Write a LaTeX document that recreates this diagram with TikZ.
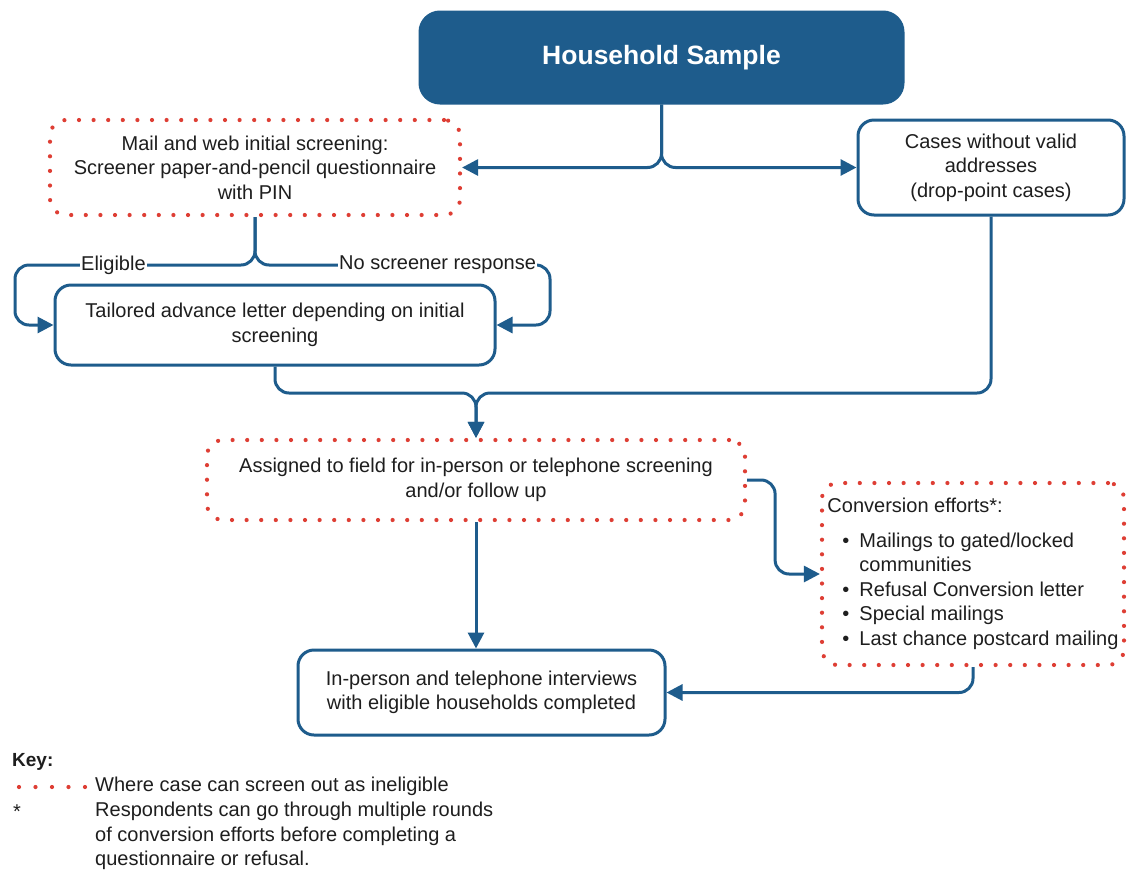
\documentclass[tikz,border=0pt]{standalone}
\usepackage{fontspec}
\setmainfont{Liberation Sans}
\usetikzlibrary{arrows.meta}
\definecolor{dblue}{RGB}{30,92,140}
\definecolor{dotred}{RGB}{222,62,52}
\definecolor{txt}{RGB}{30,30,30}
\tikzset{
  base/.style={font=\fontsize{20}{24.5}\selectfont, text=txt, align=center, inner sep=0pt},
  bluebox/.style={base, draw=dblue, line width=3pt, rounded corners=16pt, fill=white},
  dotbox/.style={base, draw=dotred, line width=4.2pt, dash pattern=on 0pt off 14.6pt, line cap=round, rounded corners=16pt},
  conn/.style={draw=dblue, line width=3pt, rounded corners=14pt},
  arr/.style={conn, -{Triangle[length=16pt,width=16pt]}},
  lbl/.style={base, fill=white, inner xsep=1pt, inner ysep=2pt},
}
\begin{document}
\begin{tikzpicture}[x=1pt,y=-1pt]
\useasboundingbox (0,0) rectangle (1127,871);
\fill[white] (0,0) rectangle (1127,871);

% nodes
\node[base, fill=dblue, draw=dblue, line width=3pt, rounded corners=20pt, minimum width=483pt, minimum height=91pt, text=white, font=\bfseries\fontsize{26.5}{30}\selectfont] (hs) at (661.5,57.5) {Household Sample};
\node[dotbox, minimum width=410pt, minimum height=95pt] (mail) at (255,167.5) {Mail and web initial screening:\\Screener paper-and-pencil questionnaire\\with PIN};
\node[bluebox, minimum width=266pt, minimum height=95pt] (cases) at (991,167.5) {Cases without valid\\addresses\\(drop-point cases)};
\node[bluebox, minimum width=440pt, minimum height=80pt] (tail) at (275,325) {Tailored advance letter depending on initial\\screening};
\node[dotbox, minimum width=538pt, minimum height=80pt] (asg) at (476,480) {Assigned to field for in-person or telephone screening\\and/or follow up};
\node[dotbox, minimum width=302pt, minimum height=182pt, align=left] (conv) at (973,574) {Conversion efforts*:\\[10pt]
\hspace*{15pt}\makebox[17pt][l]{\textbullet}Mailings to gated/locked\\
\hspace*{32pt}communities\\
\hspace*{15pt}\makebox[17pt][l]{\textbullet}Refusal Conversion letter\\
\hspace*{15pt}\makebox[17pt][l]{\textbullet}Special mailings\\
\hspace*{15pt}\makebox[17pt][l]{\textbullet}Last chance postcard mailing};
\node[bluebox, minimum width=367pt, minimum height=85pt] (intv) at (481.5,692.5) {In-person and telephone interviews\\with eligible households completed};

% connectors
\draw[arr] (hs.south) |- (mail.east);
\draw[arr] (hs.south) |- (cases.west);

\coordinate (elbL) at (15,265);
\coordinate (elbR) at (550,265);
\draw[arr] (mail.south) |- (elbL) |- (tail.west);
\draw[arr] (mail.south) |- (elbR) |- (tail.east);
\node[lbl, anchor=west] (elig) at (80,265) {Eligible};
\node[lbl, anchor=west] (nsr) at (338,265) {No screener response};

\coordinate (mg) at (476,393);
\draw[arr] (tail.south) |- (mg) -- (asg.north);
\draw[arr] (cases.south) |- (mg) -- (asg.north);

\draw[arr] (asg.south) -- (asg.south |- intv.north);
\draw[arr] (asg.east) -- ++(28,0) |- (conv.west);
\draw[arr] (conv.south) |- (intv.east);

% key
\node[base, anchor=west, font=\bfseries\fontsize{19}{24}\selectfont] (key) at (12,762) {Key:};
\foreach \i in {0,...,4} \fill[dotred] (19+\i*16.5,787) circle (2.1pt);
\node[base, anchor=west] (k1) at (95,786) {Where case can screen out as ineligible};
\node[base, anchor=west] (star) at (13,812) {*};
\node[base, anchor=north west, align=left] (k2) at (95,802) {Respondents can go through multiple rounds\\of conversion efforts before completing a\\questionnaire or refusal.};
\end{tikzpicture}
\end{document}
